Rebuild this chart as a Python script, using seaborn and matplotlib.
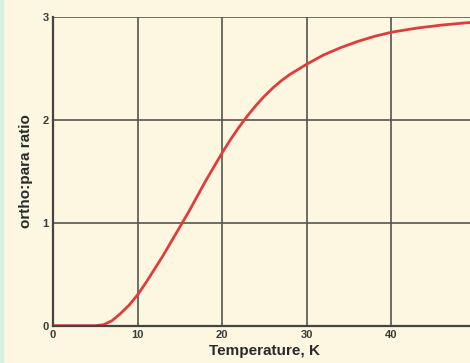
import matplotlib
matplotlib.use("Agg")
import matplotlib.pyplot as plt
import matplotlib.patches as mpatches
import seaborn as sns
import pandas as pd

# values
temperature = [0, 2, 4, 5, 6, 7, 8, 9, 10, 11, 12, 13, 14, 15, 16, 17, 18, 19, 20,
               21, 22, 23, 24, 25, 26, 27, 28, 29, 30, 32, 34, 36, 38, 40, 43, 46, 50]
ratio = [0, 0, 0, 0, 0.01, 0.05, 0.12, 0.2, 0.30, 0.42, 0.55, 0.68, 0.82, 0.96,
         1.1, 1.25, 1.4, 1.54, 1.68, 1.81, 1.93, 2.04, 2.14, 2.23, 2.31, 2.38,
         2.44, 2.49, 2.54, 2.63, 2.70, 2.76, 2.81, 2.85, 2.89, 2.92, 2.95]
xticks = [0, 10, 20, 30, 40, 50]
yticks = [0, 1, 2, 3]

df = pd.DataFrame({"T": temperature, "r": ratio})

bg = "#fdf7e2"
grid = "#55554f"
sns.set_style("white", {"axes.facecolor": bg, "figure.facecolor": bg})
plt.rcParams["font.family"] = ["Liberation Sans", "DejaVu Sans"]

fig = plt.figure(figsize=(4.7, 3.63), dpi=100)
ax = fig.add_axes([0.1128, 0.1028, 0.9, 0.851])

# thin greenish strip on the left edge
fig.patches.append(mpatches.Rectangle((0, 0), 0.007, 1, transform=fig.transFigure,
                                      color="#d8f0e0", zorder=0))

sns.lineplot(data=df, x="T", y="r", ax=ax, color="#e03c3c", linewidth=2.0, zorder=3)

ax.set_xlim(0, 50)
ax.set_ylim(0, 3)
ax.set_xticks(xticks)
ax.set_yticks(yticks)
ax.tick_params(length=0, labelsize=8, labelcolor="#3a3a3a", pad=3)
for lab in ax.get_xticklabels() + ax.get_yticklabels():
    lab.set_fontweight("bold")
ax.grid(True, color=grid, linewidth=1.2)
ax.set_axisbelow(True)
for side in ["top", "right"]:
    ax.spines[side].set_visible(False)
for side in ["left", "bottom"]:
    ax.spines[side].set_color("#444440")
    ax.spines[side].set_linewidth(1.6)
    ax.spines[side].set_zorder(4)

ax.set_xlabel("Temperature, K", fontsize=11, fontweight="bold", color="#2a2a2a", labelpad=3)
ax.set_ylabel("ortho:para ratio", fontsize=11, fontweight="bold", color="#2a2a2a", labelpad=7)

fig.savefig("out.png", dpi=100, facecolor=bg)
